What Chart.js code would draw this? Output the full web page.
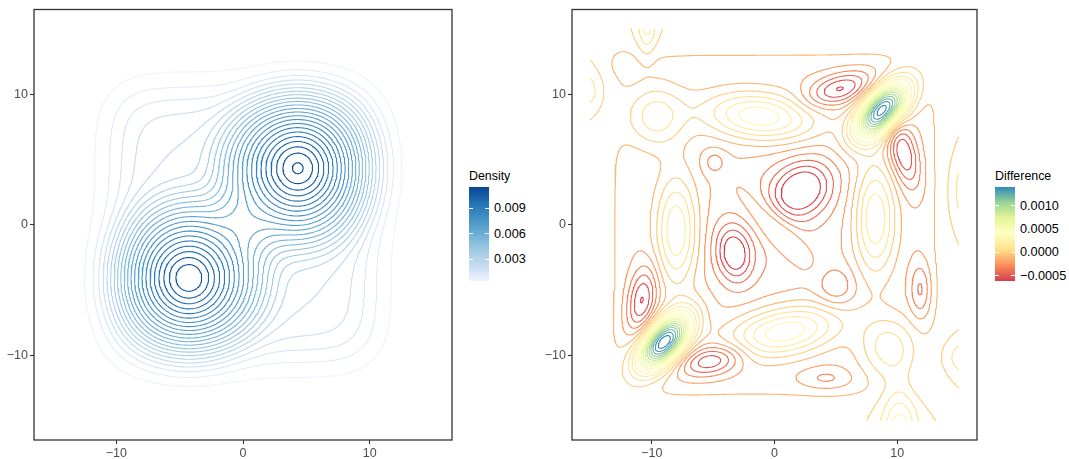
<!DOCTYPE html>
<html>
<head>
<meta charset="utf-8">
<script src="https://cdn.jsdelivr.net/npm/chart.js@4.4.0/dist/chart.umd.min.js"></script>
<style>
  body { margin: 0; background: #fff; width: 1069px; height: 459px; position: relative; overflow: hidden;
         font-family: "Liberation Sans", Arial, sans-serif; }
  canvas { position: absolute; top: 0; }
  #densityChart { left: 0; }
  #differenceChart { left: 538px; }
  .lg-title { position: absolute; font-size: 12.4px; line-height: 14px; color: #000; white-space: nowrap; }
  .lg-bar { position: absolute; width: 20px; height: 93.5px; }
  .lg-label { position: absolute; font-size: 12.7px; line-height: 14px; color: #000; white-space: nowrap; }
  .lg-tick { position: absolute; width: 4px; height: 1px; background: #fff; }
</style>
</head>
<body>
<canvas id="densityChart" width="460" height="459"></canvas>
<canvas id="differenceChart" width="447" height="459"></canvas>
<div id="legends"></div>
<script>
// axes shared by both panels
const axisMin = -16.5, axisMax = 16.5;
const axisTicks = [-10, 0, 10];

// left panel: contour levels and colour bar
const densityLevels = [0.0005, 0.001, 0.0015, 0.002, 0.0025, 0.003, 0.0035, 0.004, 0.0045, 0.005, 0.0055,
  0.006, 0.0065, 0.007, 0.0075, 0.008, 0.0085, 0.009, 0.0095, 0.01, 0.0105, 0.011, 0.0115];
const densityTicks = [0.003, 0.006, 0.009];
// density surface: two rounded cones on a soft square plateau
const coneX = [4.35, -4.3];
const coneY = [4.35, -4.1];
const coneHeight = [0.00903, 0.00889];
const coneRadius = [7.6, 7.6];
const coneRound = 1.6, coneSoftness = 0.6;
const plateauHeight = 0.0026, plateauEdge = 10, plateauSoftness = 1.2;

// right panel: contour levels and colour bar
const differenceLevels = [-0.0006, -0.0005, -0.0004, -0.0003, -0.0002, -0.0001, 0, 0.0001, 0.0002, 0.0003,
  0.0004, 0.0005, 0.0006, 0.0007, 0.0008, 0.0009, 0.001, 0.0011, 0.0012, 0.0013, 0.0014];
const differenceTicks = [-0.0005, 0, 0.0005, 0.001];
// difference surface: bumps (centre, height, spread along/across, angle)
const bumpX      = [8.8, -9.0, -1.2, 0.8, 8.2, -8.0, -9.7, 9.3, 0, 0, 2.2, -3.3, -10.8, -5.1, 5.3, 10.5, 5.0, 11.9, 4.2, -4.9,
  -10.4, -16.0, 16.2, 10.2, 16.5, -12.5];
const bumpY      = [8.8, -9.0, 8.3, -8.2, 0.5, -0.5, 8.3, -9.4, -0.2, 0, 2.7, -2.2, -5.8, -10.4, 10.4, 5.5, -4.8, -5.0, -11.8, 4.8,
  16.0, 10.3, 2.6, -17.0, -10.2, 12.5];
const bumpHeight = [0.00168, 0.00168, 0.00058, 0.00058, 0.0005, 0.0005, 0.00035, 0.00035, 0.00025, -0.00012,
  -0.0005, -0.00046, -0.00042, -0.00042, -0.00042, -0.00042, -0.0002, -0.00025, -0.00015, -0.00015,
  0.0003, 0.0003, 0.0003, 0.00045, 0.0003, -0.0001];
const bumpMajor  = [1.9, 1.9, 3.2, 3.2, 1.2, 1.2, 1.7, 1.7, 2.4, 4.5, 1.8, 1.0, 0.8, 1.8, 1.9, 0.8, 1.1, 0.6, 1.5, 0.7,
  0.5, 1.0, 1.0, 1.0, 1.5, 0.6];
const bumpMinor  = [1.0, 1.0, 1.3, 1.3, 3.0, 3.0, 1.7, 1.7, 0.9, 3.0, 1.4, 1.5, 1.8, 0.8, 0.8, 1.9, 1.1, 1.5, 0.6, 0.7,
  1.8, 0.9, 1.8, 3.0, 0.9, 0.6];
const bumpAngle  = [45, 45, -5, 10, 0, 0, 0, 0, -45, 45, 30, 10, -10, 10, 15, 15, 0, 0, 0, 0,
  0, 0, 0, 0, 0, 0];
const differenceFloor = -0.0002, differenceEdge = 13.0, differenceSoftness = 0.7;

const bluesPalette = ['#EFF3FF', '#C6DBEF', '#9ECAE1', '#6BAED6', '#4292C6', '#2171B5', '#084594'];
const spectralPalette = ['#D53E4F', '#FC8D59', '#FEE08B', '#FFFFBF', '#E6F598', '#99D594', '#3288BD'];

function bump(x, y, cx, cy, h, sa, sb, deg) {
  const t = deg * Math.PI / 180, c = Math.cos(t), s = Math.sin(t);
  const dx = x - cx, dy = y - cy;
  const u = dx * c + dy * s, v = -dx * s + dy * c;
  return h * Math.exp(-u * u / (2 * sa * sa) - v * v / (2 * sb * sb));
}

function edgeWindow(t, edge, soft) {
  return 1 / (1 + Math.exp((Math.abs(t) - edge) / soft));
}

function softplus(z) { return z > 30 ? z : Math.log1p(Math.exp(z)); }

function densityAt(x, y) {
  let f = plateauHeight * edgeWindow(x, plateauEdge, plateauSoftness) * edgeWindow(y, plateauEdge, plateauSoftness);
  for (let k = 0; k < coneX.length; k++) {
    const dx = x - coneX[k], dy = y - coneY[k];
    const rho = Math.sqrt(dx * dx + dy * dy + coneRound * coneRound);
    const R = coneRadius[k];
    f += coneHeight[k] * coneSoftness * softplus((R - rho) / coneSoftness) / (R - coneRound);
  }
  return f;
}

function differenceAt(x, y) {
  let d = differenceFloor * edgeWindow(x, differenceEdge, differenceSoftness) * edgeWindow(y, differenceEdge, differenceSoftness);
  for (let k = 0; k < bumpX.length; k++) {
    d += bump(x, y, bumpX[k], bumpY[k], bumpHeight[k], bumpMajor[k], bumpMinor[k], bumpAngle[k]);
  }
  return d;
}

function makeGrid(fn, lo, hi, step) {
  const xs = [];
  for (let v = lo; v <= hi + 1e-9; v += step) xs.push(+v.toFixed(4));
  const n = xs.length, field = new Float64Array(n * n);
  for (let j = 0; j < n; j++) for (let i = 0; i < n; i++) field[j * n + i] = fn(xs[i], xs[j]);
  return { xs, n, field };
}

// marching squares, segments joined into polylines
const CASES = { 1: [[3, 0]], 2: [[0, 1]], 3: [[3, 1]], 4: [[1, 2]], 6: [[0, 2]], 7: [[3, 2]], 8: [[2, 3]],
  9: [[0, 2]], 11: [[1, 2]], 12: [[1, 3]], 13: [[0, 1]], 14: [[0, 3]] };

function contour(grid, level) {
  const { xs, n, field } = grid;
  const F = (i, j) => field[j * n + i];
  const H = (i, j) => (j * n + i) * 2, V = (i, j) => (j * n + i) * 2 + 1;
  const segs = [];
  for (let j = 0; j < n - 1; j++) {
    for (let i = 0; i < n - 1; i++) {
      const v0 = F(i, j), v1 = F(i + 1, j), v2 = F(i + 1, j + 1), v3 = F(i, j + 1);
      const code = (v0 >= level ? 1 : 0) | (v1 >= level ? 2 : 0) | (v2 >= level ? 4 : 0) | (v3 >= level ? 8 : 0);
      if (code === 0 || code === 15) continue;
      const e = [H(i, j), V(i + 1, j), H(i, j + 1), V(i, j)];
      let pairs = CASES[code];
      if (code === 5 || code === 10) {
        const up = (v0 + v1 + v2 + v3) / 4 >= level;
        pairs = (code === 5) === up ? [[0, 1], [2, 3]] : [[3, 0], [1, 2]];
      }
      for (const p of pairs) segs.push([e[p[0]], e[p[1]]]);
    }
  }
  const point = id => {
    const k = id >> 1, vert = id & 1, i = k % n, j = (k - i) / n;
    const a = field[k], b = vert ? field[k + n] : field[k + 1];
    const f = (level - a) / (b - a);
    return vert ? { x: xs[i], y: xs[j] + f * (xs[j + 1] - xs[j]) }
                : { x: xs[i] + f * (xs[i + 1] - xs[i]), y: xs[j] };
  };
  const adj = new Map();
  segs.forEach((s, k) => s.forEach(id => { if (!adj.has(id)) adj.set(id, []); adj.get(id).push(k); }));
  const used = new Uint8Array(segs.length);
  const walk = chain => {
    for (;;) {
      const end = chain[chain.length - 1];
      const next = (adj.get(end) || []).find(k => !used[k]);
      if (next === undefined) return;
      used[next] = 1;
      const s = segs[next];
      chain.push(s[0] === end ? s[1] : s[0]);
    }
  };
  const lines = [];
  for (let k = 0; k < segs.length; k++) {
    if (used[k]) continue;
    used[k] = 1;
    const chain = [segs[k][0], segs[k][1]];
    walk(chain);
    chain.reverse();
    walk(chain);
    lines.push(chain.map(point));
  }
  return lines;
}

function hexRgb(h) { return [1, 3, 5].map(i => parseInt(h.slice(i, i + 2), 16)); }
function paletteColour(pal, t) {
  t = Math.min(1, Math.max(0, t));
  const p = t * (pal.length - 1), i = Math.min(pal.length - 2, Math.floor(p)), f = p - i;
  const a = hexRgb(pal[i]), b = hexRgb(pal[i + 1]);
  return 'rgb(' + a.map((v, k) => Math.round(v + (b[k] - v) * f)).join(',') + ')';
}

function contourDatasets(grid, levels, pal) {
  const lo = levels[0], hi = levels[levels.length - 1];
  return levels.map(level => {
    const data = [];
    contour(grid, level).forEach(line => { data.push(...line, { x: NaN, y: NaN }); });
    return {
      data, showLine: true, fill: false, pointRadius: 0, borderWidth: 1.1,
      borderColor: paletteColour(pal, (level - lo) / (hi - lo))
    };
  });
}

const minus = s => s.replace('-', '\u2212');

const panelBorder = {
  id: 'panelBorder',
  afterDraw(chart) {
    const a = chart.chartArea, c = chart.ctx;
    c.save();
    c.strokeStyle = '#333';
    c.lineWidth = 1.3;
    c.strokeRect(a.left, a.top, a.right - a.left, a.bottom - a.top);
    c.restore();
  }
};

function axis(horizontal) {
  return {
    type: 'linear', min: axisMin, max: axisMax,
    afterBuildTicks: s => { s.ticks = axisTicks.map(v => ({ value: v })); },
    afterFit: s => { if (horizontal) s.height = 19; else s.width = 34; },
    grid: { drawOnChartArea: false, drawTicks: true, tickLength: 4, tickColor: '#333', tickWidth: 1.1 },
    border: { display: false },
    ticks: { color: '#4d4d4d', padding: 2, maxRotation: 0, autoSkip: false,
      font: { family: 'Liberation Sans', size: 12.5 }, callback: v => minus(String(v)) }
  };
}

function drawPanel(id, datasets) {
  return new Chart(document.getElementById(id), {
    type: 'scatter',
    data: { datasets },
    options: {
      responsive: false, animation: false, events: [],
      layout: { padding: { top: 8, right: 8, left: 0, bottom: 0 } },
      plugins: { legend: { display: false }, tooltip: { enabled: false } },
      elements: { line: { tension: 0, borderJoinStyle: 'round', borderCapStyle: 'round' } },
      scales: { x: axis(true), y: axis(false) }
    },
    plugins: [panelBorder]
  });
}

drawPanel('densityChart', contourDatasets(makeGrid(densityAt, -16.5, 16.5, 0.1), densityLevels, bluesPalette));
drawPanel('differenceChart', contourDatasets(makeGrid(differenceAt, -15, 15, 0.1), differenceLevels, spectralPalette));

// colour bars
function colourBar(left, title, levels, ticks, pal, digits) {
  const root = document.getElementById('legends');
  const top = 187, height = 93.5, lo = levels[0], hi = levels[levels.length - 1];
  const add = (cls, css, text) => {
    const d = document.createElement('div');
    d.className = cls;
    Object.assign(d.style, css);
    if (text) d.textContent = text;
    root.appendChild(d);
  };
  add('lg-title', { left: left + 'px', top: '169px' }, title);
  add('lg-bar', { left: left + 'px', top: top + 'px',
    background: 'linear-gradient(to top,' + pal.join(',') + ')' });
  ticks.forEach(v => {
    const y = top + (hi - v) / (hi - lo) * height;
    add('lg-tick', { left: left + 'px', top: (y - 0.5) + 'px' });
    add('lg-tick', { left: (left + 16) + 'px', top: (y - 0.5) + 'px' });
    add('lg-label', { left: (left + 25) + 'px', top: (y - 7) + 'px' }, minus(v.toFixed(digits)));
  });
}
colourBar(469, 'Density', densityLevels, densityTicks, bluesPalette, 3);
colourBar(995, 'Difference', differenceLevels, differenceTicks, spectralPalette, 4);
</script>
</body>
</html>
